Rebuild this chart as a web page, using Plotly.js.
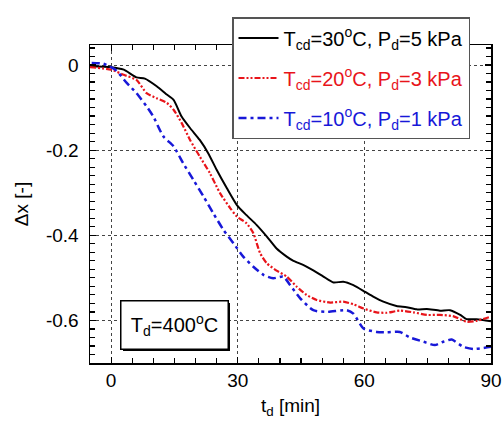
<!DOCTYPE html>
<html>
<head>
<meta charset="utf-8">
<script src="https://cdn.plot.ly/plotly-3.0.1.min.js"></script>
<style>html,body{margin:0;padding:0;background:#fff;}#chart{width:504px;height:421px;}</style>
</head>
<body>
<div id="chart"></div>
<script>
// Data
const t30 = [-5, 0, 3, 6, 8, 10.8, 13, 14.8, 16.7, 18.7, 21, 23, 25, 27.4, 29.8, 32, 34.5, 36.9, 39.2, 41.6, 43.2, 45.6, 48, 50.3, 52.7, 55, 57.4, 60.2, 62.1, 64.5, 67.6, 70, 72.4, 74.8, 77.9, 80.3, 82.7, 84.2, 86.6, 90];
const x30 = [-0.003, -0.005, -0.011, -0.029, -0.032, -0.05, -0.068, -0.082, -0.121, -0.148, -0.176, -0.207, -0.246, -0.289, -0.329, -0.352, -0.376, -0.403, -0.431, -0.45, -0.46, -0.47, -0.483, -0.497, -0.511, -0.509, -0.517, -0.533, -0.544, -0.556, -0.566, -0.569, -0.574, -0.573, -0.577, -0.576, -0.587, -0.597, -0.597, -0.602];

const t20 = [-5, 0, 3, 6, 8.4, 10.8, 13.2, 14.8, 16.7, 18.7, 21, 23.4, 25.8, 28.2, 29.8, 32.1, 33.7, 35.3, 36.9, 39.2, 41.6, 44, 46.3, 48.7, 51.9, 55, 57.4, 59.8, 62.9, 65.3, 68.4, 71.6, 74.8, 77.9, 81, 84.2, 86.6, 90];
const x20 = [-0.005, -0.011, -0.023, -0.035, -0.066, -0.078, -0.089, -0.105, -0.136, -0.176, -0.215, -0.254, -0.301, -0.336, -0.356, -0.372, -0.395, -0.442, -0.466, -0.483, -0.497, -0.521, -0.54, -0.552, -0.558, -0.556, -0.562, -0.572, -0.581, -0.582, -0.577, -0.581, -0.587, -0.587, -0.59, -0.603, -0.601, -0.591];

const t10 = [-4.6, -1.8, 1, 3.7, 6, 8.4, 10, 12.4, 14.8, 17.1, 19.5, 21.9, 24.2, 26.6, 29, 31.3, 33.7, 36.1, 38.4, 40.8, 42.4, 44.8, 47.9, 51.1, 55.8, 57.4, 59.8, 62.9, 65.3, 68.4, 70.8, 74, 76.7, 78.7, 80.7, 83.4, 85.8, 90];
const x10 = [0.005, 0.003, -0.011, -0.042, -0.066, -0.097, -0.121, -0.168, -0.191, -0.231, -0.27, -0.309, -0.348, -0.387, -0.419, -0.45, -0.474, -0.493, -0.501, -0.497, -0.517, -0.548, -0.576, -0.58, -0.576, -0.584, -0.619, -0.627, -0.628, -0.627, -0.64, -0.65, -0.658, -0.65, -0.645, -0.662, -0.667, -0.662];

const names = [
  'T<sub>cd</sub>=30<sup>o</sup>C, P<sub>d</sub>=5 kPa',
  '<span style="color:#e8141a">T<sub>cd</sub>=20<sup>o</sup>C, P<sub>d</sub>=3 kPa</span>',
  '<span style="color:#1818d8">T<sub>cd</sub>=10<sup>o</sup>C, P<sub>d</sub>=1 kPa</span>'
];
const xTicks = [0, 30, 60, 90];
const yTicks = [0, -0.2, -0.4, -0.6];
const yTickText = ['0', '-0.2', '-0.4', '-0.6'];

const FONT = 'Liberation Sans, Arial, sans-serif';

const traces = [
  {x: t30, y: x30, name: names[0], mode: 'lines', legendgroup: 'a',
   line: {color: '#000000', width: 2, shape: 'spline', smoothing: 0.6}},
  {x: t20, y: x20, name: names[1], mode: 'lines', legendgroup: 'b',
   line: {color: '#e8141a', width: 2.2, dash: '6px,2px,2px,2px,2px,2px', shape: 'spline', smoothing: 0.6}},
  {x: t10, y: x10, name: names[2], mode: 'lines', legendgroup: 'c',
   line: {color: '#1818d8', width: 2.5, dash: '8px,4px,3px,4px', shape: 'spline', smoothing: 0.6}}
];

const W = 504, H = 421, L = 90, R = 13, T = 45, B = 58;
const pw = W - L - R, ph = H - T - B;
const px = v => (v - L) / pw;
const py = v => (H - B - v) / ph;

const layout = {
  width: W, height: H,
  margin: {l: L, r: R, t: T, b: B, pad: 0},
  paper_bgcolor: '#ffffff', plot_bgcolor: '#ffffff',
  font: {family: FONT, size: 19, color: '#000'},
  showlegend: true,
  legend: {
    x: px(232), y: py(17), xanchor: 'left', yanchor: 'top',
    bgcolor: '#ffffff', bordercolor: '#555555', borderwidth: 1.5,
    font: {family: FONT, size: 20, color: '#000'},
    tracegroupgap: 11, itemwidth: 40
  },
  xaxis: {
    range: [-5, 90], tickvals: xTicks, ticktext: xTicks.map(String),
    ticks: 'inside', ticklen: 6, tickwidth: 1.2, tickcolor: '#000',
    minor: {dtick: 5, tick0: 0, ticks: 'inside', ticklen: 5, tickwidth: 1.2, tickcolor: '#000', showgrid: false},
    showline: true, linecolor: '#000', linewidth: 1.5, mirror: 'ticks',
    showgrid: true, gridcolor: '#444', gridwidth: 1, griddash: 'dot',
    zeroline: false,
    tickfont: {family: FONT, size: 19, color: '#000'},
    title: {text: 't<sub>d</sub> [min]', font: {family: FONT, size: 19, color: '#000'}, standoff: 8}
  },
  yaxis: {
    range: [-0.7, 0.047], tickvals: yTicks, ticktext: yTickText,
    ticks: 'inside', ticklen: 6, tickwidth: 1.2, tickcolor: '#000',
    minor: {dtick: 0.02, tick0: 0, ticks: 'inside', ticklen: 5, tickwidth: 1.2, tickcolor: '#000', showgrid: false},
    showline: true, linecolor: '#000', linewidth: 1.5, mirror: 'ticks',
    showgrid: true, gridcolor: '#444', gridwidth: 1, griddash: 'dot',
    zeroline: false,
    tickfont: {family: FONT, size: 19, color: '#000'},
    ticklabelstandoff: 6,
    title: {text: 'Δx [-]', font: {family: FONT, size: 19, color: '#000'}, standoff: 12}
  },
  shapes: [
    {type: 'rect', xref: 'paper', yref: 'paper', layer: 'above',
     x0: px(123), x1: px(230), y0: py(303), y1: py(351),
     fillcolor: '#000', line: {width: 0}}
  ],
  annotations: [
    {xref: 'paper', yref: 'paper', x: px(120), y: py(300), xanchor: 'left', yanchor: 'top',
     text: 'T<sub>d</sub>=400<sup>o</sup>C', showarrow: false,
     font: {family: FONT, size: 20, color: '#000'},
     bgcolor: '#ffffff', bordercolor: '#000', borderwidth: 1.5,
     width: 104, height: 45, align: 'center', valign: 'middle'}
  ]
};

Plotly.newPlot('chart', traces, layout, {staticPlot: true, displayModeBar: false});
</script>
</body>
</html>
